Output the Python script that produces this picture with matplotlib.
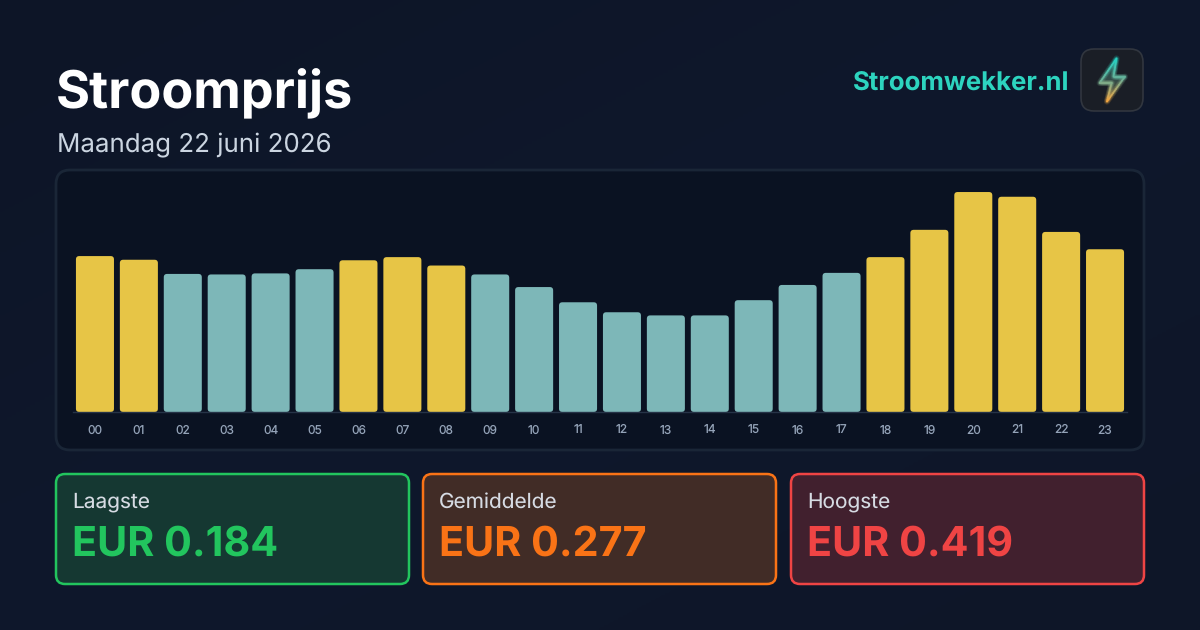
"""
Stroomprijs daily card: hourly price bars with three summary cards
"""

import matplotlib

matplotlib.use("Agg")
import matplotlib.pyplot as plt
import numpy as np
from matplotlib.collections import LineCollection
from matplotlib.colors import LinearSegmentedColormap
from matplotlib.patches import FancyBboxPatch, Polygon

plt.rcParams["font.family"] = ["Inter", "DejaVu Sans"]
plt.rcParams["text.hinting"] = "no_hinting"
plt.rcParams["text.kerning_factor"] = 0

# data
hours = ["00", "01", "02", "03", "04", "05", "06", "07", "08", "09", "10", "11",
         "12", "13", "14", "15", "16", "17", "18", "19", "20", "21", "22", "23"]
prices = [0.297, 0.290, 0.263, 0.262, 0.264, 0.272, 0.289, 0.295, 0.279, 0.262, 0.238, 0.209,
          0.190, 0.184, 0.184, 0.213, 0.242, 0.265, 0.295, 0.347, 0.419, 0.410, 0.343, 0.310]
is_peak = [1, 1, 0, 0, 0, 0, 1, 1, 1, 0, 0, 0,
           0, 0, 0, 0, 0, 0, 1, 1, 1, 1, 1, 1]
card_labels = ["Laagste", "Gemiddelde", "Hoogste"]
card_values = ["EUR 0.184", "EUR 0.277", "EUR 0.419"]

W, H = 1200, 630
fig = plt.figure(figsize=(W / 100, H / 100), dpi=100)

# background in pixel coordinates
bg = fig.add_axes([0, 0, 1, 1])
bg.set_xlim(0, W)
bg.set_ylim(H, 0)
bg.axis("off")

grad = np.linspace(0, 1, 256).reshape(1, -1) * 0.5 + np.linspace(0, 1, 256).reshape(-1, 1) * 0.5
bg_cmap = LinearSegmentedColormap.from_list("bg", ["#0d1527", "#0f182c", "#0e1628"])
bg.imshow(grad, cmap=bg_cmap, extent=(0, W, H, 0), aspect="auto", zorder=0)


def rounded(x, y, w, h, r, face, edge, lw=2.0):
    box = FancyBboxPatch((x, y), w, h, boxstyle=f"round,pad=0,rounding_size={r}",
                         facecolor=face, edgecolor=edge, linewidth=lw, zorder=1)
    bg.add_patch(box)
    return box


# header
bg.text(56, 108, "Stroomprijs", color="white", fontsize=37.5, fontweight="bold", va="baseline")
bg.text(57, 152, "Maandag 22 juni 2026", color="#cbd5e1", fontsize=18.65, va="baseline")
bg.text(1069, 90, "Stroomwekker.nl", color="#2dd4bf", fontsize=18.55, fontweight="bold",
        va="baseline", ha="right")

# logo
rounded(1081, 49, 62, 62, 13, "#1a1e26", "#31363f", 1.2)
bolt = [(1116.5, 58.5), (1099.5, 83), (1111.5, 83), (1107, 101.5), (1125, 76.5), (1113.5, 76.5)]
bolt_cmap = LinearSegmentedColormap.from_list("bolt", ["#22d3c5", "#6fae95", "#f5a53f"])
fill = bg.imshow(np.linspace(0, 1, 64).reshape(-1, 1), cmap=bolt_cmap, alpha=0.32,
                 extent=(1095, 1128, 104, 56), aspect="auto", zorder=2)
fill.set_clip_path(Polygon(bolt, closed=True, transform=bg.transData))
bg.set_xlim(0, W)
bg.set_ylim(H, 0)
closed = bolt + [bolt[0]]
segs, cols = [], []
for (x0, y0), (x1, y1) in zip(closed[:-1], closed[1:]):
    ts = np.linspace(0, 1, 13)
    xs, ys = x0 + (x1 - x0) * ts, y0 + (y1 - y0) * ts
    for j in range(12):
        segs.append([(xs[j], ys[j]), (xs[j + 1], ys[j + 1])])
        cols.append(bolt_cmap((ys[j] - 58) / 44))
for lw, a in ((4.5, 0.09), (2.8, 0.16), (1.2, 1.0)):
    lc = LineCollection(segs, colors=cols, linewidths=lw, alpha=a, capstyle="round", zorder=3)
    bg.add_collection(lc)

# chart panel
rounded(56, 170, 1088, 280, 14, "#0a1222", "#1a2637", 2.0)

# bars, 525 px per EUR above the baseline at y=412
ax = fig.add_axes([73 / W, (H - 412) / H, 1054 / W, 232 / H])
ax.patch.set_alpha(0)
ax.set_xlim(-0.5, 23.5)
ax.set_ylim(0, 232 / 525)
for side in ("top", "left", "right"):
    ax.spines[side].set_visible(False)
ax.spines["bottom"].set_color("#263347")
ax.spines["bottom"].set_linewidth(1.0)
ax.set_yticks([])
ax.set_xticks(range(len(hours)))
ax.set_xticklabels(hours, fontsize=8.6, color="#94a3b8")
ax.tick_params(axis="x", length=0, pad=9)

x_unit = 1054 / 24
y_unit = 525
for i, (price, peak) in enumerate(zip(prices, is_peak)):
    bar = FancyBboxPatch((i - 0.433, 0), 0.866, price,
                         boxstyle="round,pad=0,rounding_size=0.075",
                         mutation_aspect=x_unit / y_unit,
                         facecolor="#e7c546" if peak else "#7db7b8", edgecolor="none")
    ax.add_patch(bar)

# summary cards
card_x = [56, 423, 791]
card_face = ["#153832", "#412c26", "#41202e"]
card_edge = ["#22c55e", "#f97316", "#ef4444"]
for x, label, value, face, edge in zip(card_x, card_labels, card_values, card_face, card_edge):
    rounded(x, 474, 353, 110, 9, face, edge, 1.8)
    bg.text(x + 16, 508, label, color="#d6dbe3", fontsize=15, va="baseline")
    bg.text(x + 16, 556, value, color=edge, fontsize=29.7, fontweight="bold", va="baseline")

fig.savefig("out.png", dpi=100)
